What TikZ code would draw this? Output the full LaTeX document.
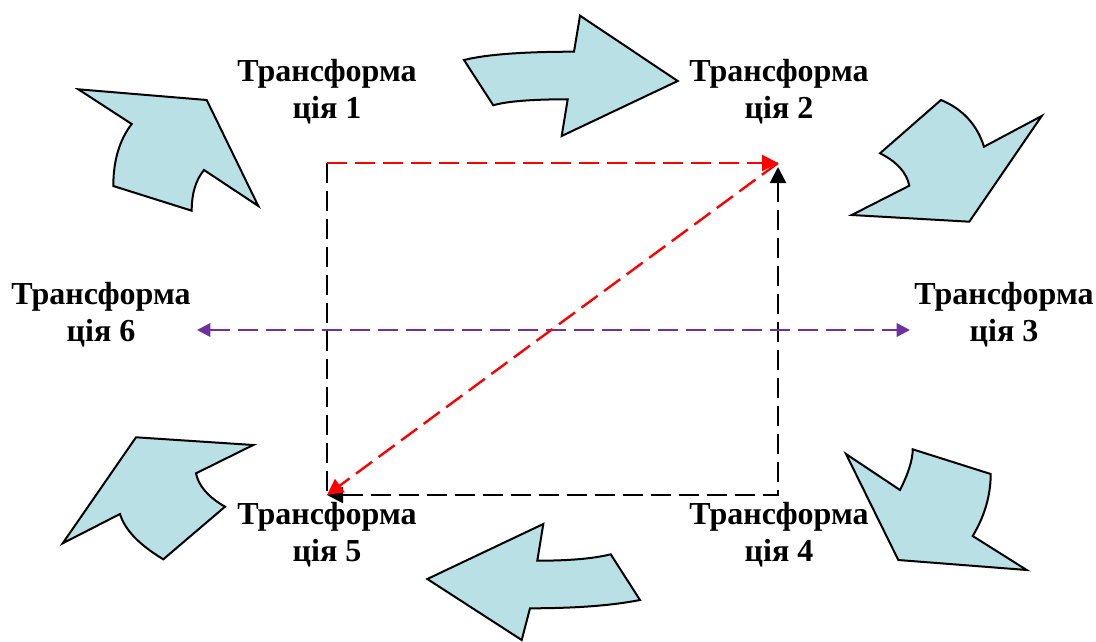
\documentclass[tikz,border=0pt]{standalone}
\usepackage{fontspec}
\setmainfont{Liberation Serif}
\usetikzlibrary{arrows.meta}
\definecolor{vcyan}{RGB}{185,224,228}
\definecolor{vred}{RGB}{255,0,0}
\definecolor{vpurple}{RGB}{112,48,160}
\tikzset{
  blockarr/.style={draw=black,line width=1.5pt,fill=vcyan,line join=miter},
  dline/.style={line width=1.8pt,dash pattern=on 15pt off 6pt},
  lbl/.style={font=\bfseries\fontsize{24}{28}\selectfont,align=center,inner sep=0pt},
  tip/.style={-{Triangle[length=12pt,width=12pt]}}
}
\begin{document}
\begin{tikzpicture}[x=0.75pt,y=-0.75pt]
    \useasboundingbox (0,0) rectangle (1096,642);
    \draw[blockarr] (78.3,89.3) -- (206.7,100) -- (258.3,206) -- (204,170) .. controls (195.8,179.9) and (191.7,193.4) .. (191.7,210.7) -- (113.3,186) .. controls (113.3,160.7) and (119.4,140) .. (131.7,124) -- cycle;
    \draw[blockarr] (464,60) .. controls (486,54.5) and (522.7,51.7) .. (574,51.7) -- (580,15.7) -- (677.7,81) -- (561.7,136) -- (567.7,99.3) .. controls (531.4,99.3) and (506.6,101.3) .. (493.3,105.3) -- cycle;
    \draw[blockarr] (941,100) .. controls (962.5,108.9) and (976.9,124.4) .. (984,146.7) -- (1041.7,116) -- (969.3,221.7) -- (851.7,215) -- (909.3,185.7) .. controls (906.7,172.6) and (896.9,161.8) .. (880,153.3) -- cycle;
    \draw[blockarr] (846,454) -- (900,490) .. controls (908.5,473.1) and (912.7,459.6) .. (912.7,449.3) -- (990.7,474) .. controls (990.7,495.3) and (984.7,516) .. (972.7,536) -- (1026.7,570) -- (898.3,560) -- cycle;
    \draw[blockarr] (543.3,524) -- (537.3,560.7) .. controls (569.2,560.7) and (593.6,558.6) .. (610.7,554.3) -- (640,600) .. controls (612.3,605.5) and (575.7,608.3) .. (530,608.3) -- (521.7,640) -- (427.3,579) -- cycle;
    \draw[blockarr] (136,437.3) -- (253.3,445) -- (196,473.3) .. controls (198.5,485.4) and (207.5,496.6) .. (225,506.7) -- (163.3,559.3) .. controls (139.2,544.8) and (124.7,529.7) .. (120,514) -- (62.7,543.3) -- cycle;

    \coordinate (ul) at (327,163);
    \coordinate (ur) at (778,163);
    \coordinate (urb) at (778,167);
    \coordinate (lr) at (778,495);
    \coordinate (ll) at (327,495);
    \coordinate (pw) at (197,330);
    \coordinate (pe) at (910,330);

    \draw[dline] (ul) -- (ll);
    \draw[dline,{Triangle[length=12pt,width=12pt]}-{Triangle[length=12pt,width=12pt]}] (urb) -- (lr) -- (ll);
    \draw[dline,vpurple,{Triangle[length=10pt,width=10pt]}-{Triangle[length=10pt,width=10pt]}] (pw) -- (pe);
    \draw[dline,vred,tip] (ul) -- (ur);
    \draw[dline,vred,tip] (ur) -- (ll);

    \node[lbl] (t1) at (327,92) {Трансформа\\ція 1};
    \node[lbl] (t2) at (779,92) {Трансформа\\ція 2};
    \node[lbl] (t3) at (1004,315) {Трансформа\\ція 3};
    \node[lbl] (t4) at (779,535) {Трансформа\\ція 4};
    \node[lbl] (t5) at (327,535) {Трансформа\\ція 5};
    \node[lbl] (t6) at (101,315) {Трансформа\\ція 6};
\end{tikzpicture}
\end{document}
